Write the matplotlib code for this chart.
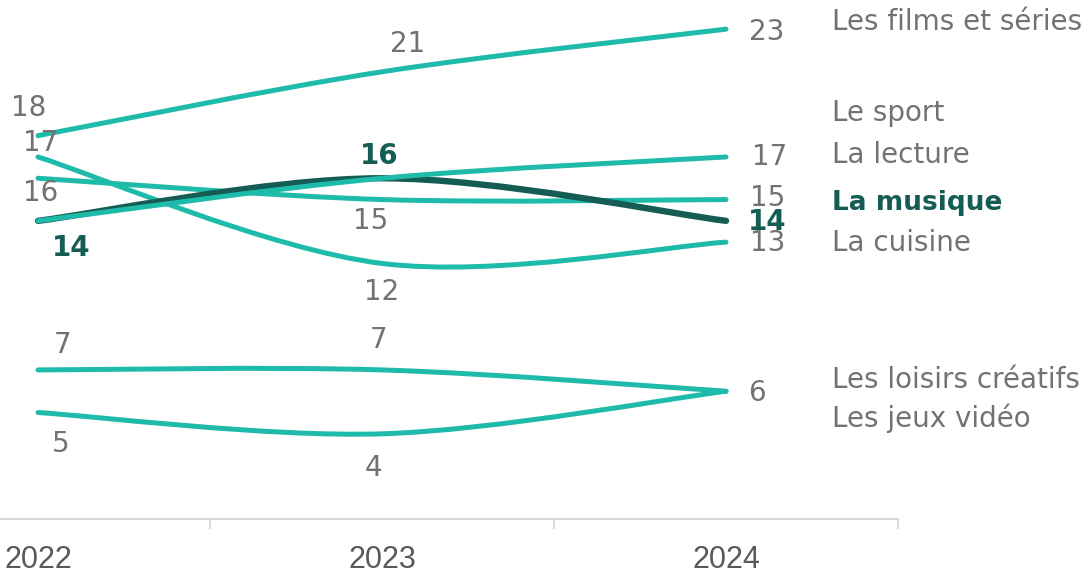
import matplotlib
matplotlib.use('Agg')
import matplotlib.pyplot as plt
from matplotlib.path import Path
from matplotlib.patches import PathPatch

# data
years = ['2022', '2023', '2024']
films = [18, 21, 23]
sport = [14, 16, 17]
lecture = [16, 15, 15]
musique = [14, 16, 14]
cuisine = [17, 12, 13]
loisirs = [7, 7, 6]
jeux = [5, 4, 6]
names = ['Les films et séries', 'Le sport', 'La lecture', 'La musique',
         'La cuisine', 'Les loisirs créatifs', 'Les jeux vidéo']

TEAL = '#1FBBAA'
DARK = '#145C54'
GREY = '#767171'

# value label offsets in pixels (None = label hidden)
OFFSETS = {
	'Les films et séries': [(-9, 28), (26, 28), (41, -3)],
	'Le sport': [None, None, (44, 0)],
	'La lecture': [(3, -15), (-11, -21), (42, 2)],
	'La musique': [(33, -27), (-3, 22), (41, -1)],
	'La cuisine': [(3, 14), (0, -29), (42, -1)],
	'Les loisirs créatifs': [(25, 25), (-3, 30), (31, -2)],
	'Les jeux vidéo': [(23, -31), (-9, -34), None],
}
# name label vertical centres (pixels from top)
NAME_Y = [22, 113, 155, 203, 243, 380, 418]


def smoothPath(values):
	# excel-like smoothed line: bezier through the points
	pts = [(float(i), float(v)) for i, v in enumerate(values)]
	verts = [pts[0]]
	codes = [Path.MOVETO]
	n = len(pts)
	for i in range(n - 1):
		p0 = pts[i - 1] if i > 0 else pts[i]
		p1 = pts[i]
		p2 = pts[i + 1]
		p3 = pts[i + 2] if i + 2 < n else pts[i + 1]
		c1 = (p1[0] + (p2[0] - p0[0]) / 6, p1[1] + (p2[1] - p0[1]) / 6)
		c2 = (p2[0] - (p3[0] - p1[0]) / 6, p2[1] - (p3[1] - p1[1]) / 6)
		verts += [c1, c2, p2]
		codes += [Path.CURVE4] * 3
	return Path(verts, codes)


def plotSeries(ax, name, values, color, lw, bold=False):
	patch = PathPatch(smoothPath(values), facecolor='none', edgecolor=color,
		lw=lw, capstyle='round', joinstyle='round')
	ax.add_patch(patch)
	for i, v in enumerate(values):
		off = OFFSETS[name][i]
		if off is None:
			continue
		ax.annotate(str(v), (i, v), xytext=off, textcoords='offset pixels',
			ha='center', va='center', fontsize=20,
			color=DARK if bold else GREY,
			fontweight='bold' if bold else 'normal',
			annotation_clip=False)


def main():
	fig = plt.figure(figsize=(10.89, 5.75), dpi=100)
	ax = fig.add_axes([0, 56 / 575, 898 / 1089, 519 / 575])
	ax.set_xlim(-38 / 344, 2.5)
	ax.set_ylim(0, 24.37)

	order = [('Les films et séries', films), ('La cuisine', cuisine),
		('La lecture', lecture), ('La musique', musique), ('Le sport', sport),
		('Les loisirs créatifs', loisirs), ('Les jeux vidéo', jeux)]
	for name, vals in order:
		if name == 'La musique':
			plotSeries(ax, name, vals, DARK, 4.6, bold=True)
		else:
			plotSeries(ax, name, vals, TEAL, 3.6)

	for s in ['top', 'left', 'right']:
		ax.spines[s].set_visible(False)
	ax.spines['bottom'].set_color('#D9D9D9')
	ax.spines['bottom'].set_linewidth(1.6)
	ax.set_yticks([])
	ax.set_xticks([0, 1, 2])
	ax.set_xticklabels(years, fontsize=22, color='#595959', family='Liberation Sans')
	ax.tick_params(axis='x', which='major', length=0, pad=19)
	ax.set_xticks([0.5, 1.5, 2.5], minor=True)
	ax.tick_params(axis='x', which='minor', length=7, width=1.4, color='#D9D9D9')

	for name, yc in zip(names, NAME_Y):
		bold = name == 'La musique'
		fig.text(832 / 1089, 1 - yc / 575, name, ha='left', va='center',
			fontsize=19 if bold else 20, color=DARK if bold else GREY,
			fontweight='bold' if bold else 'normal')

	fig.savefig('out.png', dpi=100)

if __name__ == '__main__':
	main()
